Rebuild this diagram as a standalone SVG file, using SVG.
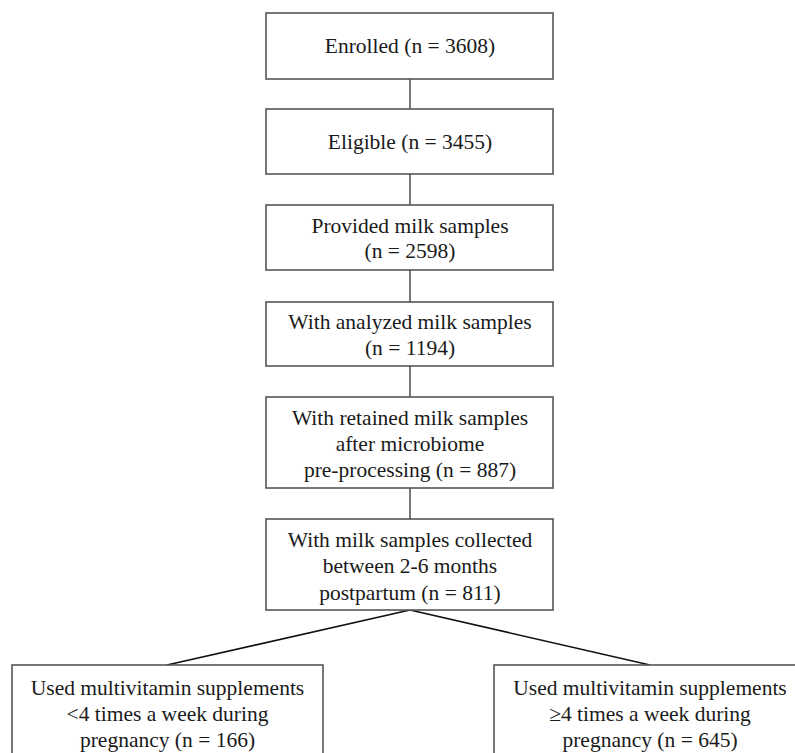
<svg xmlns="http://www.w3.org/2000/svg" width="795" height="753" viewBox="0 0 795 753">
<style>
.box{fill:#fff;stroke:#555;stroke-width:1.6}
.t{font-family:"Liberation Serif","Times New Roman",serif;font-size:21.5px;fill:#1a1a1a;text-anchor:middle}
.v{stroke:#555;stroke-width:1.6;fill:none}
.d{stroke:#111;stroke-width:1.6;fill:none}
</style>
<rect width="795" height="753" fill="#fff"/>
<g id="connectors">
<line class="v" x1="410" y1="79" x2="410" y2="109"/>
<line class="v" x1="410" y1="174" x2="410" y2="205"/>
<line class="v" x1="410" y1="270" x2="410" y2="302"/>
<line class="v" x1="410" y1="366" x2="410" y2="397"/>
<line class="v" x1="410" y1="488" x2="410" y2="519"/>
<line class="d" x1="410" y1="610" x2="167" y2="665"/>
<line class="d" x1="410" y1="610" x2="650" y2="665"/>
</g>
<g id="enrolled">
<rect class="box" x="266" y="13" width="287" height="66"/>
<text class="t" x="410" y="53">Enrolled (n = 3608)</text>
</g>
<g id="eligible">
<rect class="box" x="266" y="109" width="287" height="65"/>
<text class="t" x="410" y="149">Eligible (n = 3455)</text>
</g>
<g id="provided">
<rect class="box" x="266" y="205" width="287" height="65"/>
<text class="t" x="410" y="233">Provided milk samples</text>
<text class="t" x="410" y="258">(n = 2598)</text>
</g>
<g id="analyzed">
<rect class="box" x="266" y="302" width="287" height="64"/>
<text class="t" x="410" y="329">With analyzed milk samples</text>
<text class="t" x="410" y="355">(n = 1194)</text>
</g>
<g id="retained">
<rect class="box" x="266" y="397" width="287" height="91"/>
<text class="t" x="410" y="425">With retained milk samples</text>
<text class="t" x="410" y="451">after microbiome</text>
<text class="t" x="410" y="477">pre-processing (n = 887)</text>
</g>
<g id="collected">
<rect class="box" x="266" y="519" width="287" height="91"/>
<text class="t" x="410" y="547">With milk samples collected</text>
<text class="t" x="410" y="573">between 2-6 months</text>
<text class="t" x="410" y="600">postpartum (n = 811)</text>
</g>
<g id="low">
<rect class="box" x="12" y="665" width="311" height="100"/>
<text class="t" x="167.5" y="695">Used multivitamin supplements</text>
<text class="t" x="167.5" y="721">&lt;4 times a week during</text>
<text class="t" x="167.5" y="747">pregnancy (n = 166)</text>
</g>
<g id="high">
<rect class="box" x="494" y="665" width="312" height="100"/>
<text class="t" x="650" y="695">Used multivitamin supplements</text>
<text class="t" x="650" y="721">≥4 times a week during</text>
<text class="t" x="650" y="747">pregnancy (n = 645)</text>
</g>
</svg>
